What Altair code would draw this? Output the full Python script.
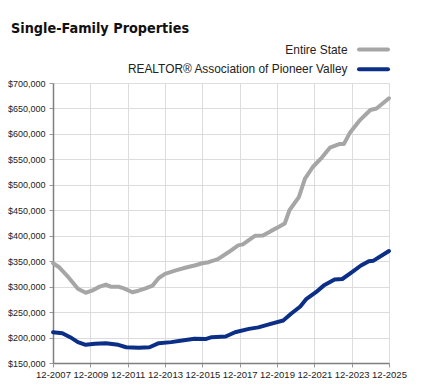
import altair as alt
import pandas as pd

title_text = "Single-Family Properties"
series_names = ["Entire State", "REALTOR® Association of Pioneer Valley"]
series_colors = ["#a6a6a6", "#0b2f86"]

state_dates = ["2007-12", "2008-04", "2008-10", "2009-04", "2009-09", "2010-01", "2010-06",
               "2010-10", "2011-01", "2011-06", "2011-10", "2012-03", "2012-07", "2012-11",
               "2013-04", "2013-08", "2013-12", "2014-07", "2015-01", "2015-07", "2015-12",
               "2016-04", "2016-10", "2017-05", "2017-11", "2018-02", "2018-10", "2019-03",
               "2019-08", "2020-01", "2020-05", "2020-08", "2021-02", "2021-06", "2021-11",
               "2022-05", "2022-10", "2023-04", "2023-07", "2023-11", "2024-05", "2024-12",
               "2025-04", "2025-12"]
state_values = [346000, 338000, 318000, 296000, 288000, 292000, 300000,
                304000, 300000, 300000, 296000, 289000, 292000, 296000,
                302000, 317000, 325000, 332000, 337000, 341500, 346000,
                348000, 354000, 368000, 381000, 383000, 400000, 400500,
                409000, 417000, 424000, 450000, 476000, 512000, 535000,
                554000, 573000, 580000, 580000, 603000, 626000, 647000,
                650000, 670000]

valley_dates = ["2007-12", "2008-06", "2008-11", "2009-04", "2009-09", "2010-03", "2010-10",
                "2011-06", "2011-11", "2012-07", "2013-02", "2013-08", "2014-04", "2014-11",
                "2015-07", "2016-02", "2016-06", "2017-03", "2017-09", "2018-06", "2018-12",
                "2019-08", "2020-04", "2020-09", "2021-03", "2021-07", "2022-01", "2022-06",
                "2023-01", "2023-06", "2023-12", "2024-06", "2024-11", "2025-02", "2025-12"]
valley_values = [210500, 208500, 200700, 191000, 185700, 187700, 189000,
                 185700, 181000, 180000, 181000, 189000, 191000, 194000,
                 197500, 197000, 200700, 202000, 210500, 217000, 220000,
                 227000, 233500, 246700, 261000, 276000, 289000, 302000,
                 314000, 315000, 328000, 341500, 350000, 351000, 370000]

x_tick_years = [2007, 2009, 2011, 2013, 2015, 2017, 2019, 2021, 2023, 2025]
y_ticks = list(range(150000, 700001, 50000))

rows = []
for d, v in zip(state_dates, state_values):
    rows.append({"date": d + "-01", "value": v, "series": series_names[0]})
for d, v in zip(valley_dates, valley_values):
    rows.append({"date": d + "-01", "value": v, "series": series_names[1]})
df = pd.DataFrame(rows)

W, H = 336, 280
FONT = "Liberation Sans"

lines = alt.Chart(df).mark_line(strokeWidth=4, strokeCap="round", strokeJoin="round").encode(
    x=alt.X("date:T",
            scale=alt.Scale(type="utc",
                            domain=[alt.DateTime(year=2007, month=12, date=1, utc=True),
                                    alt.DateTime(year=2025, month=12, date=1, utc=True)]),
            axis=alt.Axis(values=[alt.DateTime(year=y, month=12, date=1, utc=True) for y in x_tick_years],
                          labelExpr="utcFormat(datum.value, '%m-%Y')",
                          title=None, grid=True, gridColor="#dcdcdc", gridWidth=1,
                          domainColor="#7f7f7f", domainWidth=1.5, tickColor="#9a9a9a", tickSize=4,
                          labelPadding=2, labelFont=FONT, labelFontSize=9.5, labelColor="#222222",
                          labelOverlap=False, labelFlush=False)),
    y=alt.Y("value:Q",
            scale=alt.Scale(domain=[150000, 700000], nice=False, zero=False),
            axis=alt.Axis(values=y_ticks, format="$,.0f", title=None, grid=True,
                          gridColor="#dcdcdc", gridWidth=1, domainColor="#7f7f7f", domainWidth=1.5,
                          tickColor="#9a9a9a", tickSize=4, labelPadding=4, labelFont=FONT,
                          labelFontSize=9, labelColor="#222222")),
    color=alt.Color("series:N", scale=alt.Scale(domain=series_names, range=series_colors), legend=None),
    order=alt.Order("series:N", sort="ascending"),
)

layers = [lines]

title = alt.Chart(pd.DataFrame({"t": [title_text]})).mark_text(
    align="left", baseline="alphabetic", font="DejaVu Sans Condensed", fontSize=14.3, fontWeight="bold",
    color="#111111").encode(text="t:N", x=alt.value(-42), y=alt.value(-50.5))
layers.append(title)

legend_y = [-33.4, -13.7]
for name, color, ly in zip(series_names, series_colors, legend_y):
    d = pd.DataFrame({"label": [name]})
    txt = alt.Chart(d).mark_text(align="right", baseline="middle", font=FONT, fontSize=11.9,
                                 color="#222222").encode(
        text="label:N", x=alt.value(294.5), y=alt.value(ly))
    rule = alt.Chart(d).mark_rule(stroke=color, strokeWidth=4, strokeCap="round").encode(
        x=alt.value(306), x2=alt.value(335), y=alt.value(ly))
    layers += [txt, rule]

chart = alt.layer(*layers).properties(
    width=W, height=H,
    autosize=alt.AutoSizeParams(type="none"),
    padding={"left": 45, "top": 75, "right": 30, "bottom": 16},
).configure_view(strokeWidth=0).configure(background="white")

chart.save("out.html", embed_options={"renderer": "svg", "actions": False})
